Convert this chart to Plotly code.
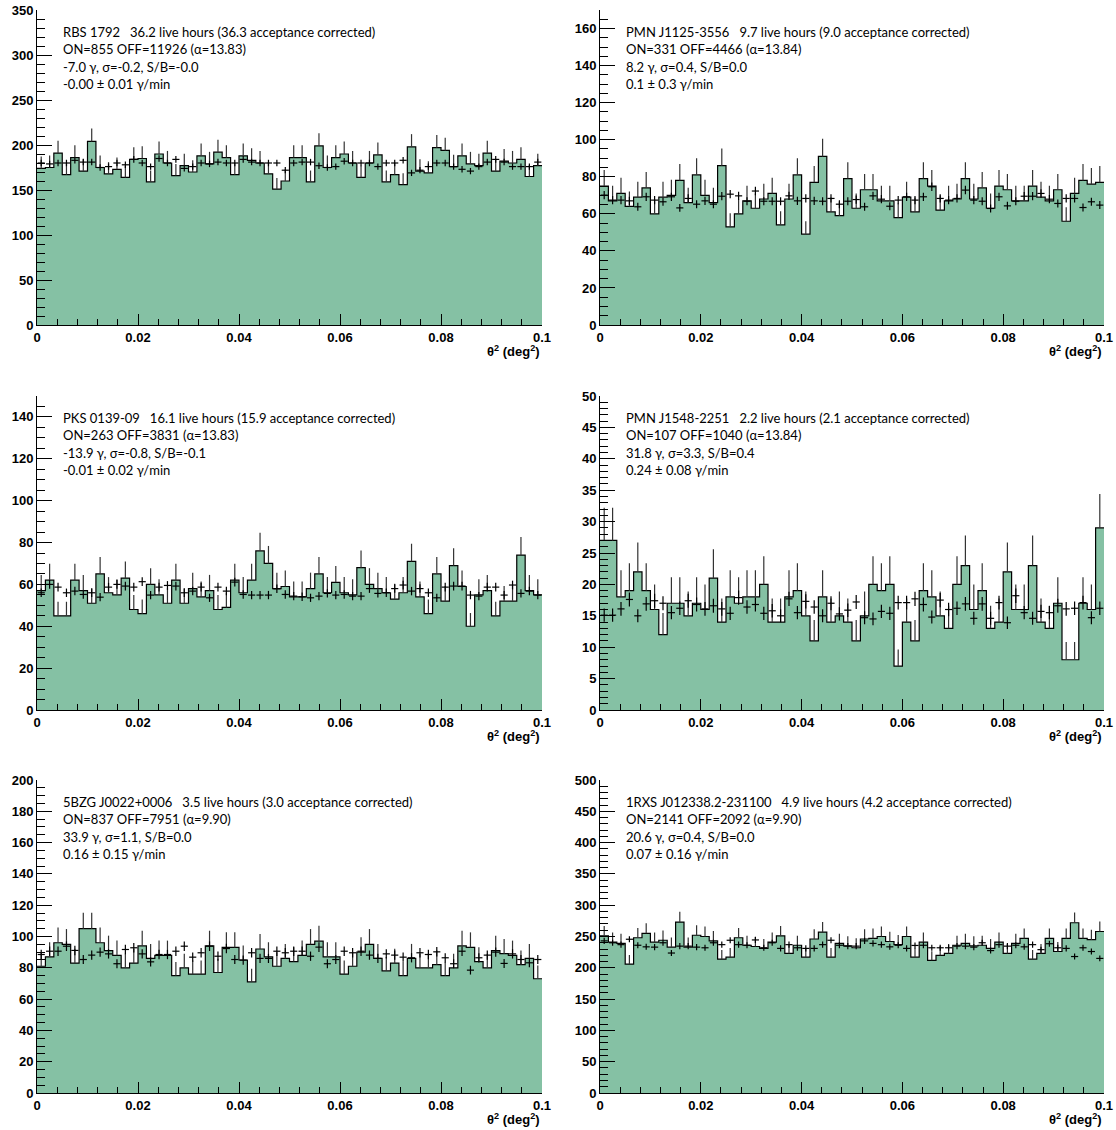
import numpy as np
import plotly.graph_objects as go

N_BINS = 60
X_MAX = 0.1

# ---------------- data (per-bin ON counts and alpha-scaled OFF counts) ----------------
p1_on = [174,175,191,167,186,171,204,175,168,173,164,184,185,159,190,180,166,177,170,188,179,192,186,167,188,183,180,168,151,160,
         186,186,159,199,175,186,190,180,164,180,189,159,167,156,198,171,169,197,194,176,188,179,177,191,171,182,180,184,165,177]
p1_off = [180,179,180,180,183,181,181,175,176,180,178,184,180,176,185,180,184,174,176,180,179,181,180,180,184,181,180,180,180,172,
          180,181,181,177,175,176,182,180,180,180,176,180,180,183,169,172,176,180,180,176,173,171,176,181,184,181,176,176,176,181]

p2_on = [75,67,71,64,69,74,60,69,70,78,66,81,70,66,86,53,60,67,63,68,71,54,68,81,49,77,91,61,59,79,
         63,73,73,67,67,58,69,61,79,75,62,67,68,79,68,74,63,75,73,67,67,75,69,67,73,56,71,78,76,77]
p2_off = [70.1,67.4,67.4,67.0,63.8,69.2,67.4,66.5,69.2,63.2,68.3,65.2,67.0,65.2,69.5,70.6,69.7,66.8,72.3,66.8,66.8,66.8,69.7,67.0,68.3,67.0,66.8,68.3,65.2,66.8,
          67.7,63.8,69.7,67.9,64.1,67.4,69.2,67.4,69.2,74.6,68.3,67.4,68.3,72.8,67.4,66.8,62.9,69.2,64.3,66.8,69.5,69.5,71.0,67.9,65.6,68.3,68.3,63.4,66.5,64.7]

p3_on = [57,62,45,45,62,57,51,65,56,55,63,48,46,60,55,51,62,51,58,54,57,48,49,62,56,62,76,70,58,59,
         54,54,58,65,56,61,56,55,68,60,58,56,53,56,71,54,46,65,52,69,59,40,55,57,45,52,52,74,57,55]
p3_off = [56.0,60.0,58.7,56.0,56.8,55.2,56.0,53.9,58.7,60.0,59.2,58.7,61.3,54.9,58.7,59.5,59.2,56.0,56.8,58.7,53.6,58.7,56.8,61.1,55.2,54.9,54.9,54.9,57.9,55.2,
          54.4,54.1,53.6,54.4,55.7,54.9,55.2,54.4,54.4,58.0,55.7,56.0,58.0,59.7,56.8,58.0,56.0,53.6,58.7,59.2,59.2,54.9,54.4,58.7,58.7,54.9,59.7,55.7,56.8,54.9]

p4_on = [27,27,18,19,22,19,16,12,17,17,15,17,16,21,14,18,17,18,18,20,14,14,18,19,15,11,18,14,15,14,
         11,15,20,19,20,7,14,11,19,18,15,13,20,23,16,19,13,14,22,16,16,23,14,13,17,8,8,17,16,29]
p4_off = [15.1,15.1,16.1,17.6,15.0,16.9,17.4,17.0,15.5,16.2,17.4,16.8,16.1,16.6,16.1,15.4,17.9,16.4,16.8,15.4,15.8,15.0,17.7,15.5,17.3,16.4,15.0,17.0,15.3,15.9,
          17.2,14.7,14.5,15.7,15.4,17.1,17.1,17.7,16.8,14.8,17.5,16.0,16.2,16.9,14.6,16.9,14.6,17.1,13.9,18.2,15.5,14.6,15.7,15.5,16.6,16.1,16.2,17.1,14.7,16.2]

p5_on = [81,87,96,95,83,105,105,96,91,88,80,83,94,86,88,88,75,80,76,76,94,77,93,93,85,71,92,87,81,86,
         84,88,95,97,87,87,76,81,90,95,86,78,83,75,86,80,80,82,75,80,94,93,84,80,91,89,88,82,86,73]
p5_off = [88.5,90.6,90.6,93.8,91.1,85.3,88.1,90.0,88.9,82.6,91.7,92.8,88.9,83.8,88.5,88.5,90.6,93.8,86.8,89.6,93.8,87.4,92.3,85.3,84.9,89.6,86.0,86.0,90.6,89.6,
          90.6,90.6,87.4,93.2,82.6,85.3,90.6,89.6,90.6,88.1,86.0,88.9,88.1,86.8,86.4,89.6,88.5,90.2,86.4,82.6,90.6,78.5,86.4,88.1,90.0,82.8,88.9,85.3,83.2,85.3]

p6_on = [251,241,239,206,248,255,241,244,233,273,233,252,250,243,214,217,248,236,234,231,241,251,223,236,217,246,257,217,239,235,
         232,246,247,250,242,237,250,217,241,212,220,223,236,239,235,236,231,241,223,239,247,214,223,247,226,247,272,247,245,258]
p6_off = [243,240,237,245.6,236,233.5,233,240,223.6,234.6,234.6,233,232,240,237,244,237,236,244.5,232,240,231,237,232,231,231,237,244,236,234.6,
          234.6,243,239,237,233.5,236,231,235.7,236,232,232,232,234.6,234.6,233,240,227.5,237,234.6,236,233.5,237,229,238.5,232,231,218,232,226,215]

alphas = [13.83, 13.84, 13.83, 13.84, 9.90, 9.90]
y_max = [350, 170, 150, 50, 200, 500]
y_dtick = [50, 20, 20, 5, 20, 50]
y_minor = [10, 5, 5, 1, 5, 10]

panel_text = [
    ["RBS 1792   36.2 live hours (36.3 acceptance corrected)", "ON=855 OFF=11926 (α=13.83)",
     "-7.0 γ, σ=-0.2, S/B=-0.0", "-0.00 ± 0.01 γ/min"],
    ["PMN J1125-3556   9.7 live hours (9.0 acceptance corrected)", "ON=331 OFF=4466 (α=13.84)",
     "8.2 γ, σ=0.4, S/B=0.0", "0.1 ± 0.3 γ/min"],
    ["PKS 0139-09   16.1 live hours (15.9 acceptance corrected)", "ON=263 OFF=3831 (α=13.83)",
     "-13.9 γ, σ=-0.8, S/B=-0.1", "-0.01 ± 0.02 γ/min"],
    ["PMN J1548-2251   2.2 live hours (2.1 acceptance corrected)", "ON=107 OFF=1040 (α=13.84)",
     "31.8 γ, σ=3.3, S/B=0.4", "0.24 ± 0.08 γ/min"],
    ["5BZG J0022+0006   3.5 live hours (3.0 acceptance corrected)", "ON=837 OFF=7951 (α=9.90)",
     "33.9 γ, σ=1.1, S/B=0.0", "0.16 ± 0.15 γ/min"],
    ["1RXS J012338.2-231100   4.9 live hours (4.2 acceptance corrected)", "ON=2141 OFF=2092 (α=9.90)",
     "20.6 γ, σ=0.4, S/B=0.0", "0.07 ± 0.16 γ/min"],
]

on_data = [p1_on, p2_on, p3_on, p4_on, p5_on, p6_on]
off_data = [p1_off, p2_off, p3_off, p4_off, p5_off, p6_off]

# ---------------- layout geometry ----------------
W, H = 1116, 1130
col_px = [(37, 542), (600, 1104)]
row_px = [(10, 325), (396, 710), (780, 1093)]

GREEN = "#85c1a4"
edges = np.linspace(0, X_MAX, N_BINS + 1)
centers = 0.5 * (edges[:-1] + edges[1:])
half_w = 0.5 * (edges[1] - edges[0])

fig = go.Figure()
annotations = []
layout_axes = {}

for k in range(6):
    r, c = divmod(k, 2)
    idx = "" if k == 0 else str(k + 1)
    xa, ya = "x" + idx, "y" + idx
    on = np.array(on_data[k], dtype=float)
    off = np.array(off_data[k], dtype=float)

    # filled step histogram of ON counts
    fig.add_trace(go.Scatter(
        x=edges, y=np.append(on, on[-1]), mode="lines", line=dict(shape="hv", color="black", width=1.2),
        fill="tozeroy", fillcolor=GREEN, xaxis=xa, yaxis=ya, showlegend=False, hoverinfo="skip"))
    # ON error bars (upper part visible)
    fig.add_trace(go.Scatter(
        x=centers, y=on, mode="markers", marker=dict(size=1, color="rgba(0,0,0,0)"),
        error_y=dict(type="data", array=np.sqrt(on), arrayminus=np.zeros_like(on), symmetric=False,
                     width=0, thickness=1.2, color="#333333"),
        xaxis=xa, yaxis=ya, showlegend=False, hoverinfo="skip"))
    # OFF (alpha-scaled) crosses
    fig.add_trace(go.Scatter(
        x=centers, y=off, mode="markers", marker=dict(size=1, color="rgba(0,0,0,0)"),
        error_y=dict(type="data", array=np.sqrt(off / alphas[k]), width=0, thickness=1.2, color="black"),
        error_x=dict(type="constant", value=half_w * 0.85, width=0, thickness=1.2, color="black"),
        xaxis=xa, yaxis=ya, showlegend=False, hoverinfo="skip"))

    x0, x1 = col_px[c]
    y0, y1 = row_px[r]
    layout_axes["xaxis" + idx] = dict(
        domain=[x0 / W, x1 / W], anchor=ya, range=[0, X_MAX], dtick=0.02, tick0=0,
        ticks="inside", ticklen=11, tickwidth=1, tickcolor="black",
        minor=dict(dtick=0.004, ticks="inside", ticklen=6, tickcolor="black"),
        showline=True, linecolor="black", linewidth=1, showgrid=False, zeroline=False,
        mirror=False, layer="above traces", automargin=False,
        tickfont=dict(family="Liberation Sans", size=13, color="black", weight="bold"))
    layout_axes["yaxis" + idx] = dict(
        domain=[1 - y1 / H, 1 - y0 / H], anchor=xa, range=[0, y_max[k]], dtick=y_dtick[k], tick0=0,
        ticks="inside", ticklen=15, tickwidth=1, tickcolor="black",
        minor=dict(dtick=y_minor[k], ticks="inside", ticklen=8, tickcolor="black"),
        showline=True, linecolor="black", linewidth=1, showgrid=False, zeroline=False,
        layer="above traces", automargin=False,
        tickfont=dict(family="Liberation Sans", size=13, color="black", weight="bold"))

    # text block
    for j, line in enumerate(panel_text[k]):
        py = y0 + 22 + j * 17.4
        annotations.append(dict(
            x=(x0 + 24) / W, y=1 - py / H, xref="paper", yref="paper", xanchor="left", yanchor="middle",
            text=line.replace("   ", "\u00a0\u00a0\u00a0"), showarrow=False,
            font=dict(family="Lato", size=13, color="black")))
    # x axis title
    annotations.append(dict(
        x=x1 / W, y=1 - (y1 + 26) / H, xref="paper", yref="paper", xanchor="right", yanchor="middle",
        text="<b>θ<sup>2</sup> (deg<sup>2</sup>)</b>", showarrow=False,
        font=dict(family="Liberation Sans", size=13, color="black")))

fig.update_layout(
    width=W, height=H, margin=dict(l=0, r=0, t=0, b=0),
    paper_bgcolor="white", plot_bgcolor="white", hovermode=False,
    annotations=annotations, **layout_axes)

fig.write_html("out.html", config={"displayModeBar": False, "staticPlot": True},
               post_script="document.body.style.margin='0';document.body.style.overflow='hidden';")
